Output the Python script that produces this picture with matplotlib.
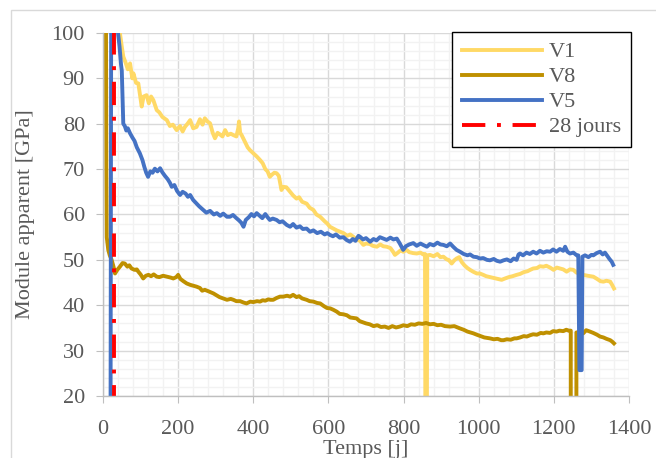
import matplotlib
matplotlib.use("Agg")
import matplotlib.pyplot as plt
from matplotlib.patches import Rectangle
from matplotlib.ticker import MultipleLocator

plt.rcParams['font.family'] = ['Liberation Serif', 'DejaVu Serif']

# V1 (yellow)
v1_days = [35, 45, 50, 54, 60, 66, 72, 78, 81, 88, 94, 99, 103, 108, 116, 122, 128, 134, 143, 150,
           158, 170, 178, 186, 196, 205, 212, 218, 225, 232, 240, 249, 258, 265, 271, 278, 285, 292, 298, 305,
           312, 318, 325, 332, 340, 347, 355, 360, 362, 365, 369, 378, 385, 391, 400, 409, 418, 425, 432, 438,
           444, 450, 456, 462, 468, 475, 480, 488, 498, 506, 515, 522, 530, 542, 550, 560, 568, 578, 590, 597,
           604, 615, 622, 631, 640, 650, 658, 666, 675, 684, 693, 700, 710, 718, 729, 738, 746, 755, 765, 772,
           777, 785, 792, 799, 808, 815, 825, 835, 845, 852, 857, 858, 862, 863, 870, 880, 890, 898, 906, 915,
           920, 928, 935, 941, 948, 955, 962, 970, 977, 985, 995, 1003, 1012, 1020, 1030, 1040, 1050, 1061, 1070, 1080,
           1090, 1101, 1110, 1120, 1130, 1137, 1145, 1155, 1163, 1172, 1180, 1190, 1199, 1208, 1216, 1225, 1234, 1243, 1252, 1260,
           1268, 1278, 1290, 1298, 1305, 1315, 1324, 1332, 1340, 1350, 1355, 1360]
v1_vals = [105, 100, 97, 94.8, 93.5, 92, 93.3, 90, 91.1, 89, 88.9, 86, 83.8, 86, 86.3, 84.5, 86, 85.2, 83, 82.5,
           81.5, 80.8, 79.5, 79.8, 78.6, 79.5, 78.3, 79.3, 80, 80.8, 79, 79.3, 81, 79.8, 81.2, 80.5, 80.1, 78, 76.8, 78,
           77.6, 77.2, 78.6, 77.5, 77.8, 77.5, 77.2, 79, 80.5, 78, 77.5, 76, 74.8, 74.2, 73.5, 72.8, 72, 71.3, 70, 69.5,
           68.3, 68.8, 69.2, 69.1, 68.5, 65.4, 66.1, 66, 65, 64.2, 63.5, 63.8, 62.8, 62.4, 61.5, 61, 60, 59.5, 58.5, 58,
           57.3, 56.8, 56.5, 56.2, 55.9, 55.3, 55.6, 55.1, 54.5, 54.2, 53.3, 53.6, 53.5, 53.1, 52.9, 53.4, 53, 52.9, 52.6, 51.8,
           51.1, 51.6, 52.1, 51.8, 52.2, 51.7, 51.5, 51.4, 51.6, 51.2, 51.3, 15, 15, 51.0, 51.1, 50.8, 51.3, 50.6, 50.7, 50.1,
           50.0, 49.2, 49.9, 50.3, 50.6, 49.5, 48.8, 48.2, 47.8, 47.4, 47.0, 47.0, 46.7, 46.4, 46.2, 46.0, 45.8, 45.6, 45.9, 46.2,
           46.4, 46.7, 46.9, 47.3, 47.5, 47.8, 48.1, 48.2, 48.6, 48.5, 48.7, 48.3, 47.8, 48.3, 48.1, 47.9, 47.4, 47.9, 47.8, 47.2,
           47.0, 46.7, 46.5, 46.4, 46.3, 45.8, 45.3, 45.2, 45.4, 45.2, 44.5, 43.7]

# V8 (dark gold)
v8_days = [8, 8, 9, 10, 14, 18, 23, 28, 32, 38, 45, 52, 58, 65, 70, 76, 84, 90, 94, 100,
           107, 114, 121, 128, 135, 143, 150, 160, 170, 180, 187, 195, 200, 206, 214, 223, 232, 240, 249, 258,
           264, 271, 280, 288, 294, 302, 310, 320, 330, 340, 347, 355, 365, 374, 382, 392, 400, 410, 418, 425,
           432, 440, 446, 453, 462, 471, 480, 490, 498, 506, 515, 522, 530, 542, 550, 560, 570, 578, 588, 596,
           605, 613, 622, 630, 640, 649, 658, 666, 675, 683, 690, 700, 710, 720, 730, 740, 750, 760, 770, 780,
           790, 800, 810, 820, 830, 840, 850, 860, 870, 880, 890, 900, 910, 924, 935, 950, 960, 970, 986, 995,
           1005, 1015, 1030, 1040, 1050, 1060, 1066, 1075, 1085, 1095, 1101, 1110, 1120, 1128, 1137, 1145, 1155, 1165, 1172, 1180,
           1190, 1198, 1207, 1215, 1225, 1233, 1240, 1245, 1245, 1260, 1260, 1268, 1278, 1286, 1296, 1305, 1315, 1323, 1332, 1340,
           1350, 1355, 1360]
v8_vals = [110, 100, 70, 55, 52.2, 51, 50, 48.5, 47, 47.8, 48.5, 49.3, 49.2, 48.5, 48.8, 48.1, 47.8, 47.9, 47.4, 46.8,
           45.9, 46.5, 46.7, 46.4, 46.8, 46.3, 46.2, 46.5, 46.3, 46.1, 45.9, 46.2, 46.7, 45.8, 45.3, 44.8, 44.5, 44.3, 44.1, 43.8,
           43.2, 43.4, 43.1, 42.8, 42.6, 42.2, 41.8, 41.5, 41.2, 41.4, 41.2, 40.9, 40.9, 40.6, 40.4, 40.8, 40.7, 40.9, 40.8, 41.1,
           41.0, 41.3, 41.2, 41.2, 41.6, 41.9, 41.9, 42.1, 41.9, 42.3, 41.8, 42.0, 41.5, 41.2, 40.9, 40.8, 40.5, 40.4, 39.8, 39.4,
           39.3, 39.0, 38.6, 38.1, 38.0, 37.8, 37.3, 37.2, 37.1, 36.5, 36.3, 36.0, 35.8, 35.4, 35.6, 35.2, 35.3, 35.0, 35.4, 35.1,
           35.3, 35.6, 35.4, 35.8, 35.7, 36.0, 35.9, 36.1, 35.8, 35.9, 35.6, 35.7, 35.4, 35.3, 35.4, 34.9, 34.6, 34.2, 33.8, 33.5,
           33.2, 32.9, 32.7, 32.5, 32.6, 32.3, 32.3, 32.5, 32.4, 32.7, 32.7, 32.9, 33.2, 33.1, 33.4, 33.6, 33.5, 33.9, 33.8, 34.0,
           33.9, 34.3, 34.2, 34.4, 34.3, 34.6, 34.4, 34.4, 15, 15, 34.0, 34.1, 33.8, 34.5, 34.2, 33.9, 33.5, 33.1, 32.9, 32.6,
           32.3, 32.0, 31.6]

# V5 (blue)
v5_days = [20, 22, 36, 40, 44, 48, 50, 52, 54, 58, 62, 66, 72, 78, 84, 90, 98, 105, 110, 115,
           120, 126, 132, 138, 145, 152, 158, 165, 172, 178, 183, 190, 197, 205, 212, 220, 226, 232, 240, 248,
           256, 267, 275, 285, 295, 303, 312, 320, 330, 338, 346, 355, 362, 368, 374, 380, 388, 395, 402, 409,
           416, 424, 432, 438, 444, 452, 462, 470, 478, 489, 498, 506, 515, 524, 532, 542, 551, 560, 570, 580,
           590, 597, 604, 612, 620, 630, 640, 648, 657, 665, 672, 680, 684, 692, 700, 711, 720, 728, 737, 746,
           755, 765, 773, 782, 790, 799, 806, 815, 826, 835, 845, 852, 862, 870, 880, 890, 898, 906, 915, 924,
           932, 941, 950, 960, 970, 977, 986, 995, 1003, 1012, 1022, 1030, 1040, 1048, 1057, 1066, 1075, 1085, 1093, 1101,
           1106, 1110, 1118, 1127, 1136, 1145, 1154, 1163, 1172, 1181, 1190, 1198, 1207, 1216, 1225, 1230, 1236, 1243, 1252, 1261,
           1265, 1268, 1274, 1276, 1283, 1292, 1300, 1305, 1314, 1323, 1330, 1336, 1341, 1348, 1354, 1358]
v5_vals = [10, 115, 105, 100, 97, 93, 91.7, 86, 80, 79.5, 78.5, 79, 77.9, 77, 76.2, 74.8, 73.5, 72, 70.5, 69.2,
           68.3, 69.5, 69.2, 70.1, 69.5, 70.2, 69.3, 68.5, 67.8, 67, 66.1, 66.5, 65.2, 64.3, 65, 64.6, 63.9, 64.3, 63.2, 62.5,
           61.8, 61.0, 60.4, 60.8, 60.0, 60.3, 59.7, 60.2, 59.5, 59.5, 59.9, 59.2, 58.7, 58.2, 57.3, 58.8, 59.4, 60.1, 59.6, 60.3,
           59.8, 59.2, 60.1, 59.4, 58.8, 59.1, 58.8, 58.3, 58.5, 57.7, 57.3, 57.9, 57.1, 57.4, 56.8, 56.9, 56.2, 56.5, 55.9, 56.2,
           55.6, 55.9, 55.5, 55.2, 55.6, 54.9, 55.0, 54.4, 54.0, 54.6, 54.2, 55.3, 55.1, 54.5, 54.8, 54.0, 54.6, 54.3, 55.0, 54.7,
           54.4, 54.9, 54.5, 54.7, 53.6, 52.2, 53.0, 53.4, 53.7, 53.1, 53.6, 53.3, 52.9, 53.5, 53.2, 53.8, 53.4, 53.3, 53.0, 53.6,
           52.9, 52.2, 51.8, 51.3, 51.0, 51.2, 50.7, 50.6, 50.3, 50.4, 50.0, 49.9, 50.2, 49.8, 49.6, 49.9, 50.1, 49.7, 50.3, 50.0,
           51.2, 51.4, 51.0, 51.6, 51.3, 51.8, 51.4, 52.0, 51.6, 51.9, 51.8, 52.3, 51.8, 52.4, 52.0, 52.9, 51.8, 51.4, 51.6, 51.0,
           51.0, 25.7, 25.7, 50.7, 51.0, 50.6, 51.1, 51.0, 51.5, 51.8, 51.2, 51.6, 51.0, 50.2, 49.6, 48.9]

# 28 jours marker
red_days = [28, 28]
red_vals = [0, 120]

labels = ['V1', 'V8', 'V5', '28 jours']
colors = ['#FFD966', '#BF9000', '#4472C4', '#FF0000']

text_color = '#595959'

fig = plt.figure(figsize=(6.56, 4.58), dpi=100)
ax = fig.add_axes([103/656, 1 - 396/458, 526/656, 363/458])

ax.plot(v1_days, v1_vals, color=colors[0], lw=2.8, label=labels[0], solid_joinstyle='round')
ax.plot(v8_days, v8_vals, color=colors[1], lw=2.8, label=labels[1], solid_joinstyle='round')
ax.plot(v5_days, v5_vals, color=colors[2], lw=2.8, label=labels[2], solid_joinstyle='round')
ax.plot(red_days, red_vals, color=colors[3], lw=2.8, label=labels[3],
        linestyle=(0, (6, 3, 1, 3)))

ax.set_xlim(0, 1400)
ax.set_ylim(20, 100)
ax.xaxis.set_major_locator(MultipleLocator(200))
ax.xaxis.set_minor_locator(MultipleLocator(40))
ax.yaxis.set_major_locator(MultipleLocator(10))
ax.yaxis.set_minor_locator(MultipleLocator(2))
ax.grid(which='major', color='#D9D9D9', lw=1.0)
ax.grid(which='minor', color='#F2F2F2', lw=1.0)
ax.set_axisbelow(True)

for s in ['top', 'right']:
    ax.spines[s].set_visible(False)
for s in ['left', 'bottom']:
    ax.spines[s].set_color('#BFBFBF')
    ax.spines[s].set_linewidth(1.0)

ax.tick_params(which='major', length=5, color='#BFBFBF', labelcolor=text_color, labelsize=16)
ax.tick_params(which='minor', length=0)
ax.tick_params(axis='y', pad=8)
ax.tick_params(axis='x', pad=12)

ax.set_xlabel('Temps [j]', color=text_color, fontsize=16, labelpad=1)
ax.set_ylabel('Module apparent [GPa]', color=text_color, fontsize=16, labelpad=12)

leg = ax.legend(loc='upper right', bbox_to_anchor=(1.004, 1.003), borderaxespad=0,
                fontsize=16, handlelength=3.6, handletextpad=0.3, labelspacing=0.2,
                fancybox=False, framealpha=1, edgecolor='black', borderpad=0.45)
leg.get_frame().set_linewidth(1.0)
for t in leg.get_texts():
    t.set_color(text_color)

fig.patches.append(Rectangle((11/656, -0.01), 1.0, 1 - 10/458 + 0.01, transform=fig.transFigure,
                             fill=False, edgecolor='#D9D9D9', lw=1.0))

fig.savefig('out.png', dpi=100)
